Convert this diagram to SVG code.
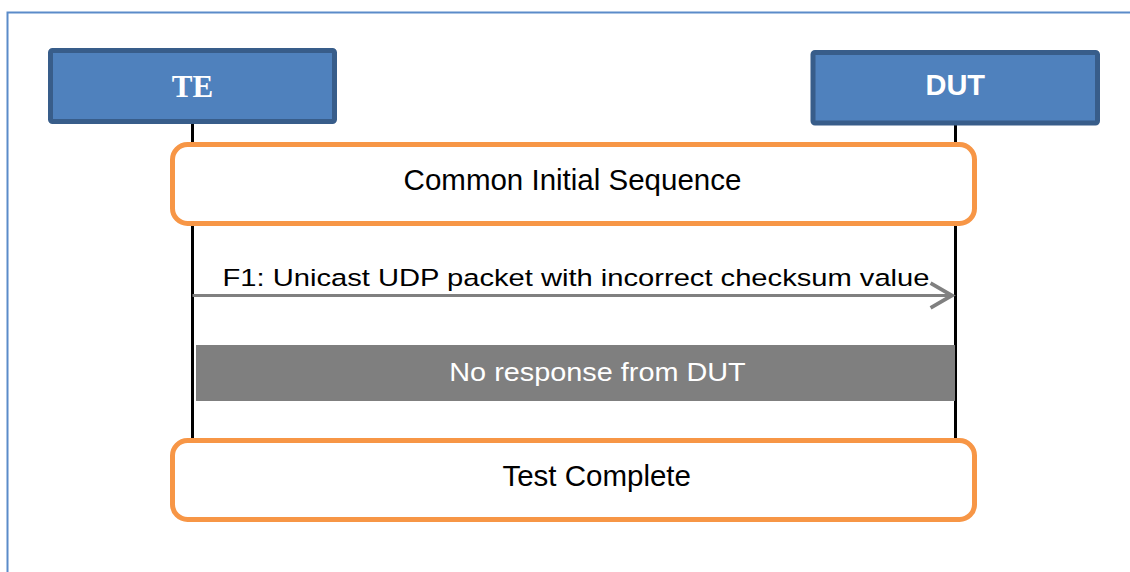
<svg xmlns="http://www.w3.org/2000/svg" width="1130" height="572" viewBox="0 0 1130 572">
  <style>
    .frame { fill: none; stroke: #5B8BC9; stroke-width: 2; }
    .actor { fill: #4F81BD; stroke: #385D8A; stroke-width: 5; }
    .actorText { fill: #FFFFFF; font-weight: bold; text-anchor: middle; }
    .note { fill: #FFFFFF; stroke: #F79646; stroke-width: 5; }
    .label { fill: #000000; font-family: "Liberation Sans", Arial, sans-serif; font-size: 29.5px; text-anchor: middle; }
    .lifeline { stroke: #000000; stroke-width: 3; fill: none; }
    .msg { stroke: #808080; stroke-width: 3; fill: none; }
    .bar { fill: #7F7F7F; }
    .barText { fill: #FFFFFF; font-family: "Liberation Sans", Arial, sans-serif; font-size: 26.5px; }
    .msgText { fill: #000000; font-family: "Liberation Sans", Arial, sans-serif; font-size: 24.5px; }
  </style>
  <defs>
    <marker id="openArrow" markerUnits="userSpaceOnUse" markerWidth="30" markerHeight="30" viewBox="-24 -14 28 28" refX="0" refY="0" orient="auto">
      <path d="M-20,-11.5 L0,0 L-20,11.5" fill="none" stroke="#808080" stroke-width="3.5"/>
    </marker>
  </defs>
  <rect width="1130" height="572" fill="#FFFFFF"/>
  <rect class="frame" x="7.5" y="12.5" width="1140" height="600"/>

  <g id="lifelines">
    <line class="lifeline" x1="192.5" y1="124" x2="192.5" y2="441"/>
    <line class="lifeline" x1="955.5" y1="125" x2="955.5" y2="441"/>
  </g>

  <g id="TE">
    <rect class="actor" x="50.5" y="50.5" width="284" height="71" rx="2"/>
    <text class="actorText" x="192.5" y="97" font-size="31" font-family="'Liberation Serif', 'Times New Roman', serif">TE</text>
  </g>

  <g id="DUT">
    <rect class="actor" x="813" y="52.5" width="284.5" height="70.5" rx="2"/>
    <text class="actorText" x="955.3" y="94.5" font-size="29" font-family="'Liberation Sans', Arial, sans-serif">DUT</text>
  </g>

  <g id="common-initial-sequence">
    <rect class="note" x="172.5" y="144.5" width="802" height="79" rx="15"/>
    <text class="label" x="572.5" y="190">Common Initial Sequence</text>
  </g>

  <g id="connectors">
    <line class="msg" x1="192.5" y1="295.5" x2="952" y2="295.5" marker-end="url(#openArrow)"/>
    <text class="msgText" transform="translate(222.5,286) scale(1.19,1)" x="0" y="0">F1: Unicast UDP packet with incorrect checksum value</text>
  </g>

  <g id="no-response">
    <rect class="bar" x="196" y="345" width="759" height="56"/>
    <text class="barText" transform="translate(449.3,380.7) scale(1.088,1)" x="0" y="0">No response from DUT</text>
  </g>

  <g id="test-complete">
    <rect class="note" x="172.5" y="440.5" width="802" height="79" rx="15"/>
    <text class="label" x="596.7" y="486">Test Complete</text>
  </g>
</svg>
